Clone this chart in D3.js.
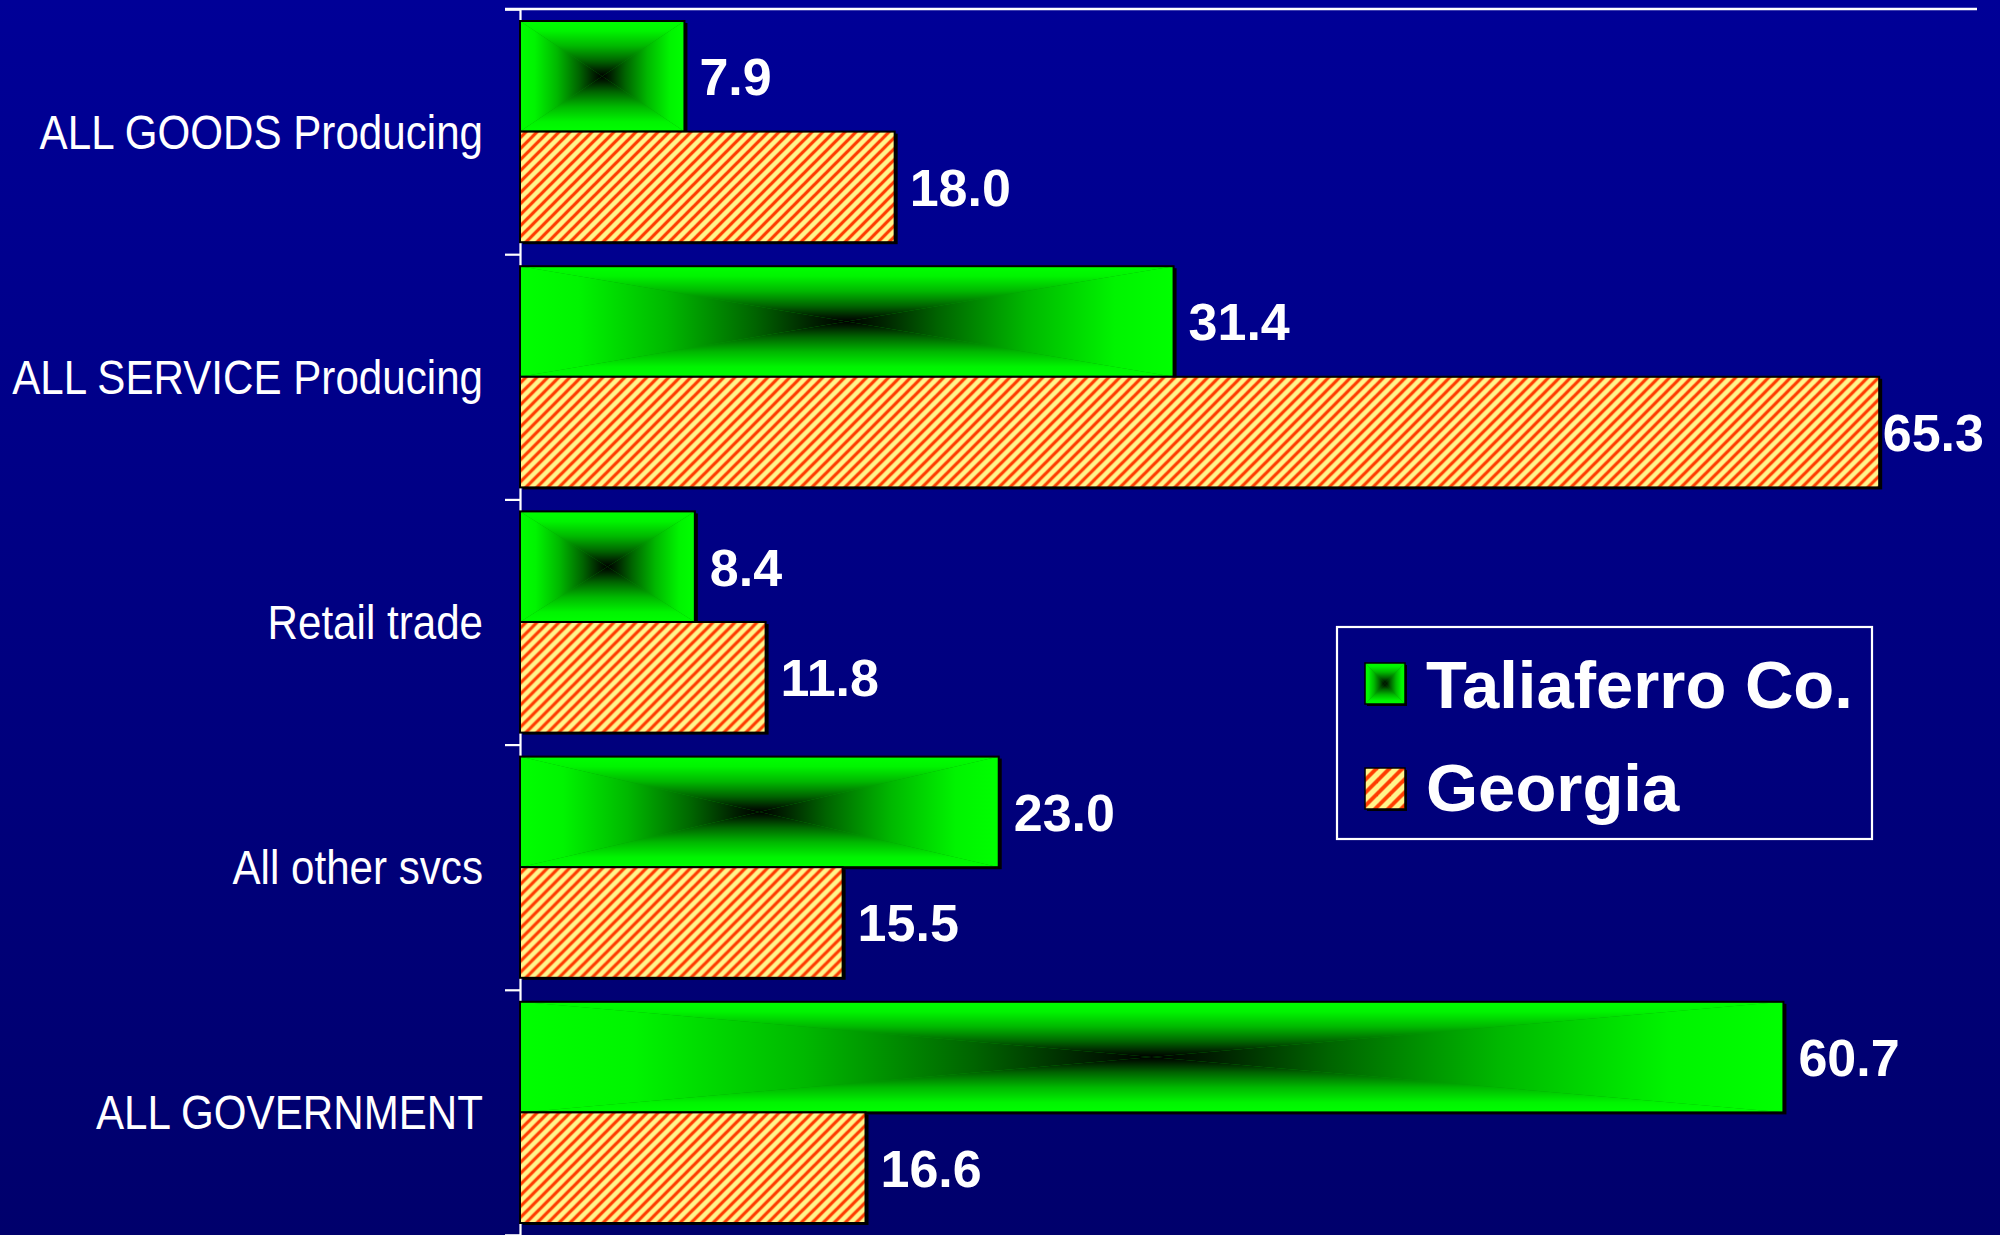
<!DOCTYPE html>
<html><head><meta charset="utf-8">
<script src="https://cdn.jsdelivr.net/npm/d3@7"></script>
<style>html,body{margin:0;padding:0;background:#000080;overflow:hidden}svg{display:block}</style>
</head><body>
<svg id="chart" width="2000" height="1235"></svg>
<script>
// ---- data ----
const categories = ["ALL GOODS Producing", "ALL SERVICE Producing", "Retail trade", "All other svcs", "ALL GOVERNMENT"];
const seriesNames = ["Taliaferro Co.", "Georgia"];
const taliaferroValues = [7.9, 31.4, 8.4, 23.0, 60.7];
const georgiaValues = [18.0, 65.3, 11.8, 15.5, 16.6];
const xDomainMax = 70;

// ---- layout ----
const W = 2000, H = 1235;
const axisX = 520, plotRight = 1977, plotTop = 9, plotBottom = 1235;
const svg = d3.select("#chart");
const defs = svg.append("defs");

// background gradient
const bg = defs.append("linearGradient").attr("id", "bg").attr("x1", 0).attr("y1", 0).attr("x2", 0).attr("y2", 1);
bg.append("stop").attr("offset", "0%").attr("stop-color", "#000097");
bg.append("stop").attr("offset", "100%").attr("stop-color", "#00006c");
svg.append("rect").attr("width", W).attr("height", H).attr("fill", "url(#bg)");

// rectangular "from centre" gradient pieces
const gStops = [[0, "#00ff00"], [0.18, "#00f400"], [0.45, "#00b800"], [0.72, "#006400"], [0.9, "#002000"], [1, "#000000"]];
[["gT", 0, 0, 0, 1], ["gB", 0, 1, 0, 0], ["gL", 0, 0, 1, 0], ["gR", 1, 0, 0, 0]].forEach(([id, x1, y1, x2, y2]) => {
  const lg = defs.append("linearGradient").attr("id", id)
    .attr("x1", x1).attr("y1", y1).attr("x2", x2).attr("y2", y2);
  gStops.forEach(([o, c]) => lg.append("stop").attr("offset", o).attr("stop-color", c));
});

// hatch pattern ("/" stripes), s = horizontal period
function makeHatch(id, s, sw) {
  const p = defs.append("pattern").attr("id", id).attr("patternUnits", "userSpaceOnUse")
    .attr("width", s).attr("height", s);
  p.append("rect").attr("width", s).attr("height", s).attr("fill", "#fff68c");
  const segs = [[-s / 2, s / 2, s / 2, -s / 2], [0, s, s, 0], [s / 2, 1.5 * s, 1.5 * s, s / 2]];
  segs.forEach(([a, b, c, d]) => {
    p.append("line").attr("x1", a).attr("y1", b).attr("x2", c).attr("y2", d)
      .attr("stroke", "#ffa050").attr("stroke-width", sw + 1.4);
    p.append("line").attr("x1", a).attr("y1", b).attr("x2", c).attr("y2", d)
      .attr("stroke", "#ff3c00").attr("stroke-width", sw);
  });
}
makeHatch("hatch", 11, 2.6);
makeHatch("hatchL", 13, 3.2);

// ---- scales ----
const x = d3.scaleLinear().domain([0, xDomainMax]).range([axisX, plotRight]);
const y = d3.scaleBand().domain(categories).range([plotTop, plotBottom]).padding(0);
const bandPad = 12;
const ySub = d3.scaleBand().domain(seriesNames).range([bandPad, y.bandwidth() - bandPad]).padding(0);

const rows = categories.map((c, i) => ({
  cat: c,
  values: [
    { s: seriesNames[0], v: taliaferroValues[i] },
    { s: seriesNames[1], v: georgiaValues[i] }
  ]
}));

function gradRect(g, x0, y0, w, h) {
  const cx = x0 + w / 2, cy = y0 + h / 2;
  g.append("rect").attr("x", x0).attr("y", y0).attr("width", w).attr("height", h).attr("fill", "#00a000");
  const tri = (pts, f) => g.append("path").attr("d", "M" + pts.map(p => p.join(",")).join("L") + "Z").attr("fill", f);
  tri([[x0, y0], [x0 + w, y0], [cx, cy]], "url(#gT)");
  tri([[x0, y0 + h], [x0 + w, y0 + h], [cx, cy]], "url(#gB)");
  tri([[x0, y0], [x0, y0 + h], [cx, cy]], "url(#gL)");
  tri([[x0 + w, y0], [x0 + w, y0 + h], [cx, cy]], "url(#gR)");
}

// ---- axes ----
const idx = d3.scaleLinear().domain([0, categories.length]).range([plotTop, plotBottom]);
svg.append("g").attr("transform", `translate(${axisX},0)`)
  .call(d3.axisLeft(idx).tickValues(d3.range(categories.length + 1)).tickSize(15).tickSizeOuter(15).tickFormat(""))
  .call(g => g.selectAll("line,path").attr("stroke", "#ffffff").attr("stroke-width", 2.2));
// top line
svg.append("line").attr("x1", axisX - 15).attr("x2", x.range()[1]).attr("y1", plotTop).attr("y2", plotTop)
  .attr("stroke", "#ffffff").attr("stroke-width", 2.5);

// category labels
svg.append("g").selectAll("text").data(categories).join("text")
  .attr("transform", d => `translate(483,${y(d) + y.bandwidth() / 2 + 17}) scale(0.878,1)`)
  .attr("text-anchor", "end")
  .attr("font-family", "'Liberation Sans', Arial, sans-serif")
  .attr("font-size", 48)
  .attr("fill", "#ffffff")
  .text(d => d);

// ---- bars ----
const groups = svg.append("g").selectAll("g").data(rows).join("g")
  .attr("transform", d => `translate(0,${y(d.cat)})`);

groups.each(function (row) {
  const g = d3.select(this);
  row.values.forEach(d => {
    const x0 = x(0), w = x(d.v) - x(0), y0 = ySub(d.s), h = ySub.bandwidth();
    g.append("rect").attr("x", x0 + 3).attr("y", y0 + 2).attr("width", w).attr("height", h).attr("fill", "#000000");
    if (d.s === seriesNames[0]) {
      gradRect(g, x0, y0, w, h);
    } else {
      g.append("rect").attr("x", x0).attr("y", y0).attr("width", w).attr("height", h).attr("fill", "url(#hatch)");
    }
    g.append("rect").attr("x", x0).attr("y", y0).attr("width", w).attr("height", h)
      .attr("fill", "none").attr("stroke", "#000000").attr("stroke-width", 2);
    const t = g.append("text")
      .attr("font-family", "'Liberation Sans', Arial, sans-serif")
      .attr("font-weight", "bold").attr("font-size", 52).attr("fill", "#ffffff")
      .attr("y", y0 + h / 2 + 19)
      .text(d.v.toFixed(1));
    const tw = t.node().getComputedTextLength();
    t.attr("x", Math.min(x(d.v) + 15, 1984 - tw));
  });
});

// ---- legend ----
const lg = svg.append("g");
lg.append("rect").attr("x", 1337).attr("y", 627).attr("width", 535).attr("height", 212)
  .attr("fill", "none").attr("stroke", "#ffffff").attr("stroke-width", 2.2);
const swatchY = [663, 768];
const textBase = [708, 811];
seriesNames.forEach((s, i) => {
  const sy = swatchY[i];
  lg.append("rect").attr("x", 1367).attr("y", sy + 2).attr("width", 40).attr("height", 41).attr("fill", "#000");
  if (i === 0) gradRect(lg, 1365, sy, 40, 41);
  else lg.append("rect").attr("x", 1365).attr("y", sy).attr("width", 40).attr("height", 41).attr("fill", "url(#hatchL)");
  lg.append("rect").attr("x", 1365).attr("y", sy).attr("width", 40).attr("height", 41)
    .attr("fill", "none").attr("stroke", "#000").attr("stroke-width", 1.5);
  lg.append("text")
    .attr("x", 1426).attr("y", textBase[i])
    .attr("font-family", "'Liberation Sans', Arial, sans-serif")
    .attr("font-weight", "bold").attr("font-size", 67).attr("fill", "#ffffff")
    .text(s);
});
</script>
</body></html>
